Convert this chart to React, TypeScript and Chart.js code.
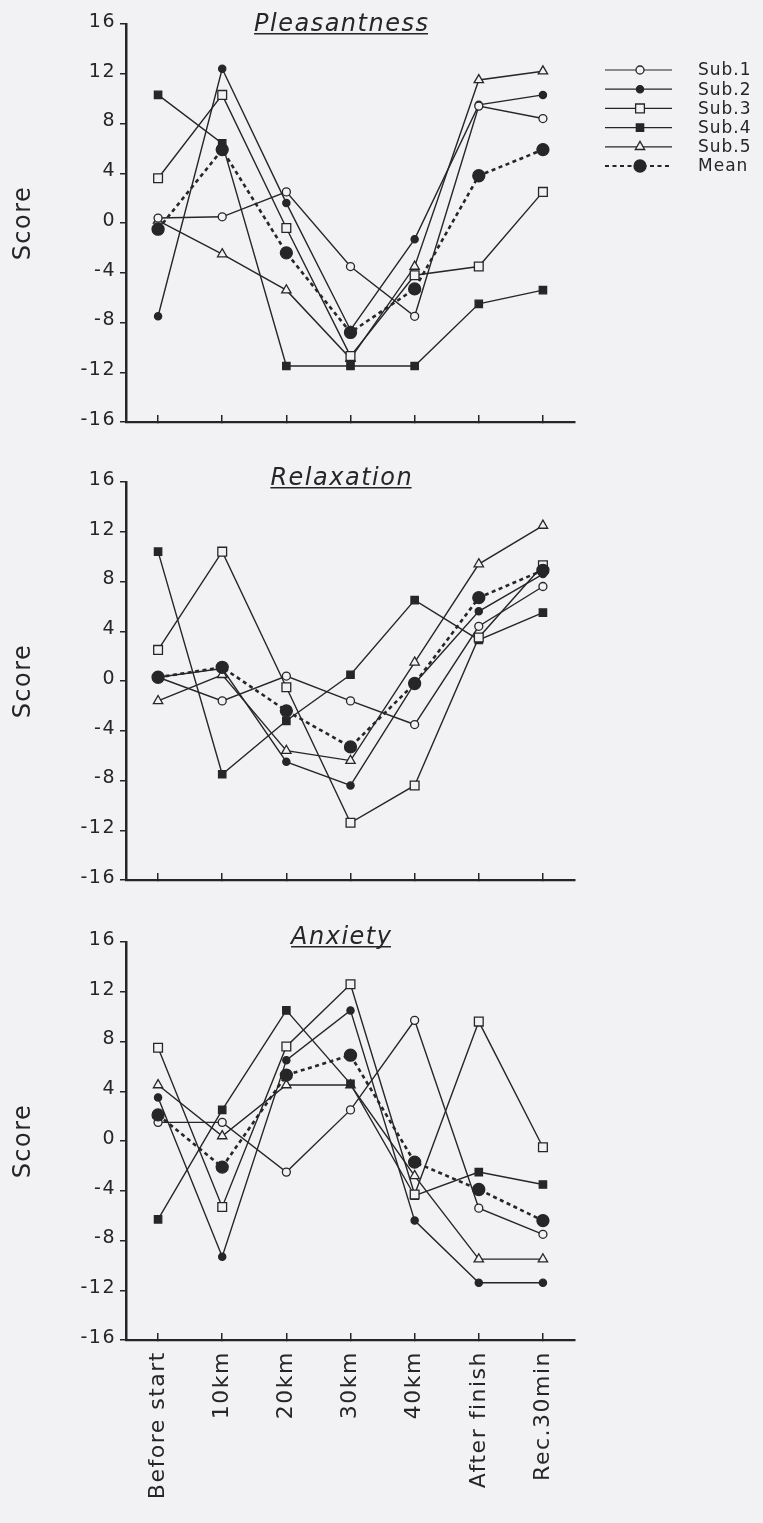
import React, { useEffect, useRef } from 'react';
import { Chart, registerables } from 'chart.js';

Chart.register(...registerables);

// Measurement points along the race
const categories = ['Before start', '10km', '20km', '30km', '40km', 'After finish', 'Rec.30min'];
const yTickValues = [16, 12, 8, 4, 0, -4, -8, -12, -16];
const seriesNames = ['Sub.1', 'Sub.2', 'Sub.3', 'Sub.4', 'Sub.5', 'Mean'];
const panelTitles = ['Pleasantness', 'Relaxation', 'Anxiety'];

// Pleasantness scores
const pleaSub1 = [0.4, 0.5, 2.5, -3.5, -7.5, 9.4, 8.4];
const pleaSub2 = [-7.5, 12.4, 1.6, -8.6, -1.3, 9.5, 10.3];
const pleaSub3 = [3.6, 10.3, -0.4, -10.7, -4.2, -3.5, 2.5];
const pleaSub4 = [10.3, 6.4, -11.5, -11.5, -11.5, -6.5, -5.4];
const pleaSub5 = [0.2, -2.5, -5.4, -10.9, -3.5, 11.5, 12.2];
const pleaMean = [-0.5, 5.9, -2.4, -8.8, -5.3, 3.8, 5.9];

// Relaxation scores
const relaSub1 = [0.3, -1.6, 0.4, -1.6, -3.5, 4.4, 7.6];
const relaSub2 = [0.3, 1.0, -6.5, -8.4, -0.2, 5.6, 8.6];
const relaSub3 = [2.5, 10.4, -0.5, -11.4, -8.4, 3.5, 9.3];
const relaSub4 = [10.4, -7.5, -3.2, 0.5, 6.5, 3.3, 5.5];
const relaSub5 = [-1.6, 0.5, -5.6, -6.4, 1.5, 9.4, 12.5];
const relaMean = [0.3, 1.1, -2.4, -5.3, -0.2, 6.7, 8.9];

// Anxiety scores
const anxSub1 = [1.5, 1.5, -2.5, 2.5, 9.7, -5.4, -7.5];
const anxSub2 = [3.5, -9.3, 6.5, 10.5, -6.4, -11.4, -11.4];
const anxSub3 = [7.5, -5.3, 7.6, 12.6, -4.3, 9.6, -0.5];
const anxSub4 = [-6.3, 2.5, 10.5, 4.6, -4.4, -2.5, -3.5];
const anxSub5 = [4.5, 0.4, 4.5, 4.5, -2.8, -9.5, -9.5];
const anxMean = [2.1, -2.1, 5.3, 6.9, -1.7, -3.9, -6.4];

const BG = '#f2f1f3';
const INK = '#262626';
const FONT = '"DejaVu Sans", sans-serif';
const PAGE_W = 763;
const AREA_RIGHT = 575;
const AXIS_LEFT = 126;
const AREA_H = 398;

type MarkerStyle = {
  pointStyle: 'circle' | 'rect' | 'triangle';
  radius: number;
  filled: boolean;
  dashed: boolean;
  lineWidth: number;
};

const markerStyles: MarkerStyle[] = [
  { pointStyle: 'circle', radius: 4, filled: false, dashed: false, lineWidth: 1.4 },
  { pointStyle: 'circle', radius: 3.6, filled: true, dashed: false, lineWidth: 1.4 },
  { pointStyle: 'rect', radius: 6.2, filled: false, dashed: false, lineWidth: 1.4 },
  { pointStyle: 'rect', radius: 5.2, filled: true, dashed: false, lineWidth: 1.4 },
  { pointStyle: 'triangle', radius: 5.4, filled: false, dashed: false, lineWidth: 1.4 },
  { pointStyle: 'circle', radius: 6, filled: true, dashed: true, lineWidth: 2.6 },
];

const MEAN_DASH = [4, 3.5];

type Panel = {
  title: string;
  series: number[][];
  canvasTop: number;
  canvasH: number;
  areaTop: number;
  titleDy: number;
  showLabels: boolean;
  legend: boolean;
};

const panels: Panel[] = [
  {
    title: panelTitles[0],
    series: [pleaSub1, pleaSub2, pleaSub3, pleaSub4, pleaSub5, pleaMean],
    canvasTop: 0, canvasH: 440, areaTop: 24, titleDy: 7, showLabels: false, legend: true,
  },
  {
    title: panelTitles[1],
    series: [relaSub1, relaSub2, relaSub3, relaSub4, relaSub5, relaMean],
    canvasTop: 440, canvasH: 460, areaTop: 42, titleDy: 3, showLabels: false, legend: false,
  },
  {
    title: panelTitles[2],
    series: [anxSub1, anxSub2, anxSub3, anxSub4, anxSub5, anxMean],
    canvasTop: 900, canvasH: 623, areaTop: 42, titleDy: 2, showLabels: true, legend: false,
  },
];

// Spreads the axis lettering a little, the way the printed figure sets it.
const spacingPlugin = {
  id: 'letterSpacing',
  beforeDraw(chart: any) {
    chart.ctx.save();
    chart.ctx.letterSpacing = '1.5px';
  },
  afterDraw(chart: any) {
    chart.ctx.restore();
  },
};

function drawMarker(ctx: CanvasRenderingContext2D, m: MarkerStyle, x: number, y: number) {
  ctx.save();
  ctx.setLineDash([]);
  ctx.lineWidth = 1.3;
  ctx.strokeStyle = INK;
  ctx.fillStyle = m.filled ? INK : BG;
  ctx.beginPath();
  if (m.pointStyle === 'circle') {
    ctx.arc(x, y, m.radius, 0, Math.PI * 2);
  } else if (m.pointStyle === 'rect') {
    const s = m.radius * Math.SQRT1_2;
    ctx.rect(x - s, y - s, 2 * s, 2 * s);
  } else {
    const r = m.radius;
    ctx.moveTo(x, y - r);
    ctx.lineTo(x + r * 0.866, y + r * 0.5);
    ctx.lineTo(x - r * 0.866, y + r * 0.5);
    ctx.closePath();
  }
  ctx.fill();
  ctx.stroke();
  ctx.restore();
}

const legendPlugin = {
  id: 'seriesKey',
  afterDraw(chart: any) {
    const ctx: CanvasRenderingContext2D = chart.ctx;
    ctx.save();
    ctx.letterSpacing = '1px';
    ctx.font = `17px ${FONT}`;
    ctx.textBaseline = 'middle';
    ctx.textAlign = 'left';
    seriesNames.forEach((name, i) => {
      const m = markerStyles[i];
      const y = 70 + i * 19.2;
      ctx.strokeStyle = INK;
      ctx.lineWidth = m.dashed ? 2 : 1.2;
      ctx.setLineDash(m.dashed ? MEAN_DASH : []);
      ctx.beginPath();
      ctx.moveTo(605, y);
      ctx.lineTo(672, y);
      ctx.stroke();
      drawMarker(ctx, m, 640, y);
      ctx.fillStyle = INK;
      ctx.fillText(name, 698, y + 1);
    });
    ctx.restore();
  },
};

function makeTitlePlugin(title: string, dy: number) {
  return {
    id: 'panelTitle',
    afterDraw(chart: any) {
      const ctx: CanvasRenderingContext2D = chart.ctx;
      const area = chart.chartArea;
      ctx.save();
      ctx.letterSpacing = '1.5px';
      ctx.font = `italic 24px ${FONT}`;
      ctx.fillStyle = INK;
      ctx.textAlign = 'left';
      ctx.textBaseline = 'alphabetic';
      const w = ctx.measureText(title).width - 1.5;
      const cx = area.left + 215;
      const by = area.top + dy;
      ctx.fillText(title, cx - w / 2, by);
      ctx.fillRect(cx - w / 2, by + 2, w, 1.5);
      ctx.restore();
    },
  };
}

function buildConfig(p: Panel): any {
  const datasets = p.series.map((values, i) => {
    const m = markerStyles[i];
    return {
      label: seriesNames[i],
      data: values,
      order: m.dashed ? 0 : i + 1,
      borderColor: INK,
      borderWidth: m.lineWidth,
      borderDash: m.dashed ? MEAN_DASH : [],
      tension: 0,
      fill: false,
      pointStyle: m.pointStyle,
      pointRadius: m.radius,
      pointHoverRadius: m.radius,
      pointBorderWidth: 1.3,
      pointBorderColor: INK,
      pointBackgroundColor: m.filled ? INK : BG,
      clip: false,
    };
  });

  const xAxisH = p.canvasH - p.areaTop - AREA_H;
  const plugins: any[] = [spacingPlugin, makeTitlePlugin(p.title, p.titleDy)];
  if (p.legend) plugins.push(legendPlugin);

  return {
    type: 'line',
    data: { labels: categories, datasets },
    plugins,
    options: {
      responsive: false,
      animation: false,
      devicePixelRatio: 1,
      events: [],
      layout: {
        autoPadding: false,
        padding: { left: 0, top: p.areaTop, right: PAGE_W - AREA_RIGHT, bottom: 0 },
      },
      plugins: {
        legend: { display: false },
        tooltip: { enabled: false },
        title: { display: false },
      },
      scales: {
        x: {
          type: 'category',
          offset: true,
          grid: {
            display: true,
            drawOnChartArea: false,
            drawTicks: true,
            tickLength: -7,
            color: INK,
            lineWidth: 1.5,
          },
          border: { display: true, color: INK, width: 2.2 },
          ticks: {
            display: p.showLabels,
            autoSkip: false,
            minRotation: 90,
            maxRotation: 90,
            padding: 18,
            color: INK,
            font: { family: FONT, size: 22 },
          },
          afterFit: (s: any) => {
            s.height = xAxisH;
          },
        },
        y: {
          min: -16,
          max: 16,
          afterBuildTicks: (s: any) => {
            s.ticks = yTickValues.map((v) => ({ value: v }));
          },
          grid: {
            display: true,
            drawOnChartArea: false,
            drawTicks: true,
            tickLength: 6,
            color: INK,
            lineWidth: 1.5,
          },
          border: { display: true, color: INK, width: 2.5 },
          ticks: {
            padding: 4,
            labelOffset: -2,
            color: INK,
            font: { family: FONT, size: 19 },
            callback: (v: any) => String(v),
          },
          title: {
            display: true,
            text: 'Score',
            color: INK,
            font: { family: FONT, size: 24 },
            padding: { top: 9, bottom: 0 },
          },
          afterFit: (s: any) => {
            s.width = AXIS_LEFT;
          },
        },
      },
    },
  };
}

function PanelChart({ panel }: { panel: Panel }) {
  const ref = useRef<HTMLCanvasElement | null>(null);
  useEffect(() => {
    if (!ref.current) return;
    const chart = new Chart(ref.current, buildConfig(panel));
    return () => chart.destroy();
  }, [panel]);
  return (
    <canvas
      ref={ref}
      width={PAGE_W}
      height={panel.canvasH}
      style={{ position: 'absolute', left: 0, top: panel.canvasTop, width: PAGE_W, height: panel.canvasH, display: 'block' }}
    />
  );
}

export default function App() {
  return (
    <div style={{ position: 'absolute', left: 0, top: 0, width: PAGE_W, height: 1523, background: BG, overflow: 'hidden' }}>
      {panels.map((p) => (
        <PanelChart key={p.title} panel={p} />
      ))}
    </div>
  );
}
